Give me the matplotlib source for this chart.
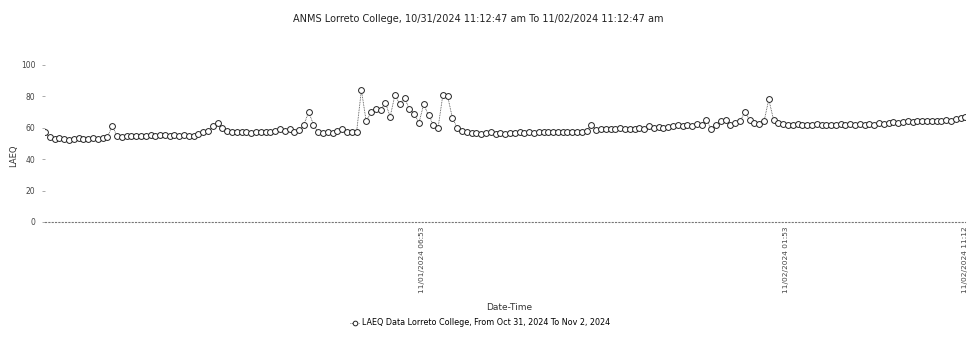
import matplotlib
matplotlib.use("Agg")
import matplotlib.pyplot as plt
import pandas as pd

title = "ANMS Lorreto College, 10/31/2024 11:12:47 am To 11/02/2024 11:12:47 am"
series_label = "LAEQ Data Lorreto College, From Oct 31, 2024 To Nov 2, 2024"
x_label = "Date-Time"
y_label = "LAEQ"
start_time = "2024-10-31 11:12:47"
step = "15min"

laeq = [
    57, 54, 53, 53.5, 53, 52.5, 53, 53.5, 53, 53, 53.5, 53, 53.5, 54, 61, 55, 54, 55, 54.5, 55,
    54.5, 55, 55.5, 55, 55.5, 55.5, 55, 55.5, 55, 55.5, 55, 55, 56, 57, 58, 61, 63, 60, 58, 57,
    57.5, 57, 57, 56.5, 57, 57, 57.5, 57, 58, 59.5, 58, 59, 57.5, 58.5, 62, 70, 62, 57, 56.5, 57,
    56.5, 58, 59, 57, 57, 57.5, 84, 64, 70, 72, 71, 76, 67, 81, 75, 79, 72, 69, 63, 75,
    68, 62, 60, 81, 80, 66, 60, 58, 57, 56.5, 56.5, 56, 56.5, 57, 56, 56.5, 56, 56.5, 56.5, 57,
    56.5, 57, 56.5, 57, 57.5, 57, 57, 57.5, 57, 57.5, 57, 57.5, 57.5, 58, 62, 58.5, 59, 59.5, 59, 59.5,
    60, 59.5, 59, 59.5, 60, 59.5, 61, 60, 60.5, 60, 60.5, 61, 61.5, 61, 62, 61, 62.5, 61.5, 65, 59,
    62, 64, 65, 62, 63, 64, 70, 65, 63, 62.5, 64, 78, 65, 63, 62.5, 62, 62, 62.5, 62, 61.5,
    62, 62.5, 62, 61.5, 62, 62, 62.5, 62, 62.5, 62, 62.5, 62, 62.5, 62, 63, 62.5, 63, 63.5, 63, 63.5,
    64, 63.5, 64, 64, 64.5, 64, 64.5, 64, 65, 64.5, 65.5, 66, 67,
]
y_ticks = [0, 20, 40, 60, 80, 100]
x_tick_times = ["2024-11-01 06:53", "2024-11-02 01:53", "2024-11-02 11:12"]
x_tick_labels = ["11/01/2024 06:53", "11/02/2024 01:53", "11/02/2024 11:12"]

times = pd.date_range(start=start_time, periods=len(laeq), freq=step)

fig = plt.figure(figsize=(9.8, 3.49), dpi=100)
ax = fig.add_axes([0.046, 0.364, 0.939, 0.45])

ax.plot(times, laeq, color="#444444", linewidth=0.6, linestyle=(0, (1, 1)), marker="o",
        markersize=4.2, markerfacecolor="white", markeredgecolor="#222222",
        markeredgewidth=0.7, label=series_label)

ax.set_ylim(0, 100)
ax.set_xlim(times[0], times[-1])
ax.set_yticks(y_ticks)
ax.set_yticklabels([str(v) for v in y_ticks], fontsize=5.5, color="#444444")
ax.tick_params(axis="y", length=2, width=0.5, color="#888888", pad=5)

ax.set_xticks(pd.to_datetime(x_tick_times))
ax.set_xticklabels(x_tick_labels, rotation=90, fontsize=5.3, color="#444444")
ax.tick_params(axis="x", length=0, pad=3)

for s in ["top", "right", "left"]:
    ax.spines[s].set_visible(False)
ax.spines["bottom"].set_linestyle((0, (1, 2)))
ax.spines["bottom"].set_color("#777777")
ax.spines["bottom"].set_linewidth(0.8)

fig.text(0.014, 0.555, y_label, rotation=90, ha="center", va="center", fontsize=6,
         color="#333333")
fig.text(0.52, 0.12, x_label, ha="center", va="center", fontsize=6.5, color="#333333")

fig.text(0.488, 0.945, title, ha="center", va="center", fontsize=7, color="#222222")

fig.legend(loc="center", bbox_to_anchor=(0.49, 0.075), frameon=False, fontsize=5.8,
           handlelength=1.0, handletextpad=0.4, markerscale=0.8)

fig.savefig("out.png", dpi=100, facecolor="white")
